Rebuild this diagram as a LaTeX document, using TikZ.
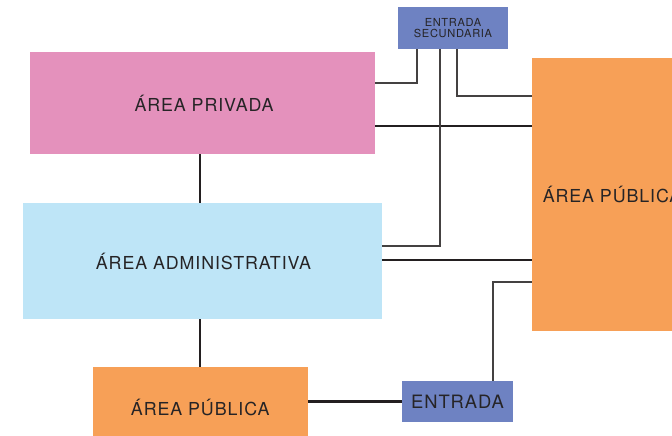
\documentclass[tikz,border=0pt]{standalone}
\usepackage{fontspec}
\newfontfamily\lbl[LetterSpace=5]{TeX Gyre Heros}
\newfontfamily\lbls[LetterSpace=6]{TeX Gyre Heros}
\definecolor{cpink}{RGB}{228,145,188}
\definecolor{cblue}{RGB}{190,229,247}
\definecolor{corange}{RGB}{247,160,87}
\definecolor{cindigo}{RGB}{110,130,194}
\definecolor{ctext}{RGB}{38,36,38}
\definecolor{cline}{RGB}{35,31,32}
\tikzset{
  box/.style={rectangle, inner sep=0pt, text=ctext, font=\lbl\fontsize{13.4pt}{15pt}\selectfont},
  thickline/.style={draw=cline, line width=2pt},
  thinline/.style={draw=cline!85!white, line width=1.5pt}
}
\begin{document}
\begin{tikzpicture}[x=0.75pt,y=-0.75pt]
\useasboundingbox (0,0) rectangle (672,436);
\clip (0,0) rectangle (672,436);
\node[box, fill=cpink, minimum width=258.4pt, minimum height=76.5pt] (pr) at (202.75,103) {\raisebox{-1.2pt}{\hspace{2pt}ÁREA PRIVADA}};
\node[box, fill=cblue, minimum width=269.25pt, minimum height=87pt] (ad) at (202.2,261) {\raisebox{-1.5pt}{\hspace{2pt}ÁREA ADMINISTRATIVA}};
\node[box, fill=corange, minimum width=161.25pt, minimum height=60pt] (pb) at (200.2,407) {ÁREA PÚBLICA};
\node[box, fill=corange, minimum width=120pt, minimum height=204.75pt] (pd) at (612,194.5) {ÁREA PÚBLICA};
\node[box, fill=cindigo, minimum width=82.5pt, minimum height=31.5pt, align=center, font=\lbls\fontsize{8.3pt}{8.8pt}\selectfont] (es) at (453,28) {ENTRADA\\SECUNDARIA};
\node[box, fill=cindigo, minimum width=83.25pt, minimum height=30.75pt, font=\lbl\fontsize{13.8pt}{15pt}\selectfont] (en) at (457.5,401.5) {ENTRADA};
\coordinate (vx) at (200,0);
\coordinate (c1) at (416.7,83);
\coordinate (c2) at (440,245.7);
\coordinate (c3) at (456.7,95.7);
\coordinate (c4) at (493,282);
\coordinate (h1) at (0,126);
\coordinate (h2) at (0,260);
% thick
\draw[thickline] (pr.south -| vx) -- (ad.north -| vx);
\draw[thickline] (ad.south -| vx) -- (pb.north -| vx);
\draw[thickline] (pb.east |- en.west) -- (en.west);
\draw[thickline] (pr.east |- h1) -- (pd.west |- h1);
\draw[thickline] (ad.east |- h2) -- (pd.west |- h2);
% thin
\draw[thinline] (es.south -| c1) |- (pr.east |- c1);
\draw[thinline] (es.south -| c2) |- (ad.east |- c2);
\draw[thinline] (es.south -| c3) |- (pd.west |- c3);
\draw[thinline] (en.north -| c4) |- (pd.west |- c4);
\end{tikzpicture}
\end{document}
